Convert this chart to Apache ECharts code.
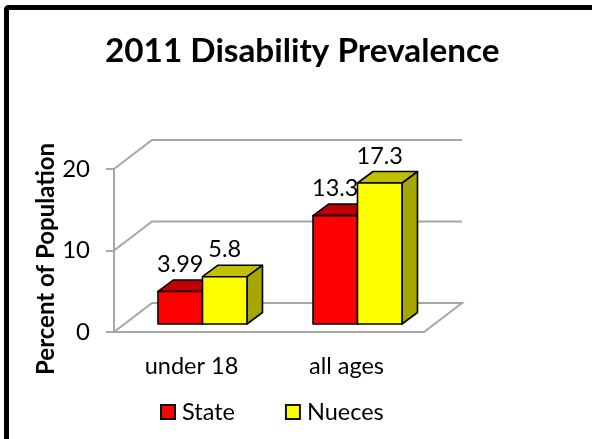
<!DOCTYPE html>
<html><head><meta charset="utf-8">
<style>html,body{margin:0;padding:0;background:#fff}#c{width:592px;height:439px}</style>
<script src="https://cdn.jsdelivr.net/npm/echarts@6/dist/echarts.min.js"></script>
</head><body><div id="c"></div>
<script>
var categories = ['under 18', 'all ages'];
var stateValues = [3.99, 13.3];
var stateLabels = ['3.99', '13.3'];
var nuecesValues = [5.8, 17.3];
var nuecesLabels = ['5.8', '17.3'];
var yTicks = [0, 10, 20];
var FONT = 'Lato';
var GREY = '#a6a6a6';
var WALL = {dx: 38, dy: -29};
var FRONT = {dx: 11, dy: -8};
var DEPTH = {dx: 15.5, dy: -11.5};
var BAR = 0.287;

function barSeries(name, values, labels, side, face, topC, sideC) {
  return {
    name: name, type: 'custom', coordinateSystem: 'cartesian2d',
    itemStyle: {color: face, borderColor: '#111', borderWidth: 2},
    data: values.map(function (v, i) { return [i, v, labels[i]]; }),
    encode: {x: 0, y: 1},
    renderItem: function (p, api) {
      var cat = api.value(0), v = api.value(1);
      var base = api.coord([cat, 0]), top = api.coord([cat, v]);
      var w = api.size([1, 0])[0] * BAR;
      var x0 = base[0] + FRONT.dx + (side === 0 ? -w : 0), x1 = x0 + w;
      var yb = base[1] + FRONT.dy, yt = top[1] + FRONT.dy;
      function poly(pts, fill) {
        return {type: 'polygon', shape: {points: pts}, style: {fill: fill, stroke: '#000', lineWidth: 1.6, lineJoin: 'round'}};
      }
      return {type: 'group', children: [
        poly([[x1, yt], [x1 + DEPTH.dx, yt + DEPTH.dy], [x1 + DEPTH.dx, yb + DEPTH.dy], [x1, yb]], sideC),
        poly([[x0, yt], [x0 + DEPTH.dx, yt + DEPTH.dy], [x1 + DEPTH.dx, yt + DEPTH.dy], [x1, yt]], topC),
        poly([[x0, yt], [x1, yt], [x1, yb], [x0, yb]], face),
        {type: 'text', style: {text: labels[cat], x: (x0 + x1) / 2, y: yt - 27, align: 'center', verticalAlign: 'middle',
          fill: '#000', font: '23.5px ' + FONT}}
      ]};
    }
  };
}

var chart = echarts.init(document.getElementById('c'), null, {renderer: 'canvas'});
chart.setOption({
  animation: false,
  backgroundColor: '#fff',
  title: {text: '2011 Disability Prevalence', left: 100, top: 30,
    textStyle: {fontFamily: FONT, fontWeight: 'bold', fontSize: 33.3, color: '#000'}},
  grid: {left: 114, top: 169, width: 310, height: 163},
  legend: {
    left: 155, top: 395, itemWidth: 14, itemHeight: 14, itemGap: 50, icon: 'rect', selectedMode: false,
    itemStyle: {borderColor: '#111', borderWidth: 2, borderCap: 'square', opacity: 1},
    textStyle: {fontFamily: FONT, fontSize: 23.5, color: '#000', padding: [0, 0, 0, 2]},
    data: [
      {name: 'State', itemStyle: {color: '#ff0000', borderColor: '#111', borderWidth: 2}},
      {name: 'Nueces', itemStyle: {color: '#ffff00', borderColor: '#111', borderWidth: 2}}
    ]
  },
  xAxis: {type: 'category', data: categories,
    axisLine: {show: false}, axisTick: {show: false},
    axisLabel: {fontFamily: FONT, fontSize: 23.5, color: '#000', margin: 22}},
  yAxis: {type: 'value', min: 0, max: 20, interval: 10,
    name: 'Percent of Population', nameLocation: 'middle', nameGap: 56, nameRotate: 90, nameMoveOverlap: false,
    nameTextStyle: {fontFamily: FONT, fontWeight: 'bold', fontSize: 24, color: '#000', padding: [0, 17, 0, 0]},
    axisLine: {show: true, lineStyle: {color: GREY, width: 2}},
    axisTick: {show: true, length: 8, lineStyle: {color: GREY, width: 2}},
    splitLine: {show: false},
    axisLabel: {fontFamily: FONT, fontSize: 24, color: '#000', margin: 24}},
  series: [
    {
      name: 'walls', type: 'custom', silent: true, z: 1,
      data: yTicks.map(function (t) { return [0, t]; }),
      encode: {x: 0, y: 1},
      renderItem: function (p, api) {
        var t = api.value(1);
        var a = api.coord([0, t]);
        var xl = a[0] - api.size([1, 0])[0] / 2;
        var xr = xl + api.size([1, 0])[0] * categories.length;
        var pts = [[xl, a[1]], [xl + WALL.dx, a[1] + WALL.dy], [xr + WALL.dx, a[1] + WALL.dy]];
        if (t === 0) pts = pts.concat([[xr, a[1]], [xl, a[1]]]);
        return {type: 'polyline', shape: {points: pts}, style: {fill: null, stroke: GREY, lineWidth: 2}};
      }
    },
    barSeries('State', stateValues, stateLabels, 0, '#ff0000', '#c00000', '#a00000'),
    barSeries('Nueces', nuecesValues, nuecesLabels, 1, '#ffff00', '#c0c000', '#a6a600')
  ],
  graphic: [{type: 'rect', z: 100, silent: true, shape: {x: 6.5, y: 7.5, width: 600, height: 450, r: 2},
    style: {fill: null, stroke: '#000', lineWidth: 5}}]
});
</script></body></html>
